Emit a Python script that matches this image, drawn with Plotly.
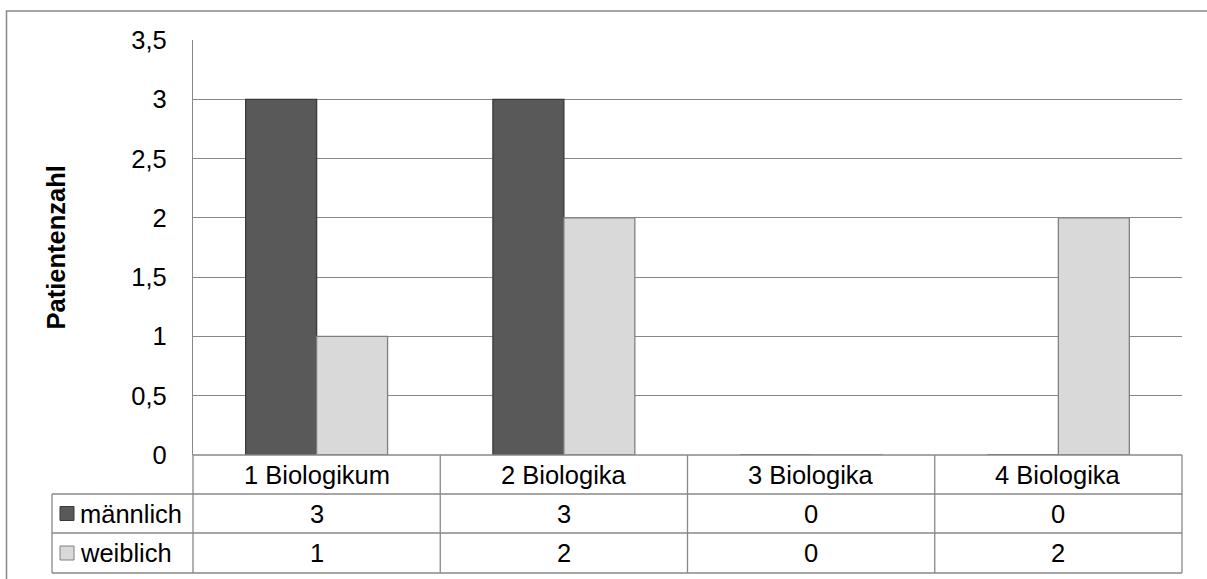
import plotly.graph_objects as go

# Data
categories = ["1 Biologikum", "2 Biologika", "3 Biologika", "4 Biologika"]
series_names = ["männlich", "weiblich"]
maennlich = [3, 3, 0, 0]
weiblich = [1, 2, 0, 2]
y_ticks = [0, 0.5, 1, 1.5, 2, 2.5, 3, 3.5]

# Styling
W, H = 1207, 579
PL, PR, PT, PB = 193, 1182, 40, 455          # plot area in pixels
LINE = "#888888"
FILL = {"männlich": "#595959", "weiblich": "#d9d9d9"}
EDGE = {"männlich": "#3a3a3a", "weiblich": "#808080"}
FONT = "Liberation Sans, Arial, sans-serif"
FS = 25.5

pw, ph = PR - PL, PB - PT


def px(x):  # pixel -> paper x
    return (x - PL) / pw


def py(y):  # pixel -> paper y
    return (PB - y) / ph


fig = go.Figure()
values = {"männlich": maennlich, "weiblich": weiblich}
for name in series_names:
    fig.add_trace(go.Bar(
        x=list(range(len(categories))), y=values[name], name=name,
        marker=dict(color=FILL[name], line=dict(color=EDGE[name], width=1.3)),
        showlegend=False,
    ))

shapes = []
annotations = []

# outer chart frame (runs past the page edge on right and bottom)
shapes.append(dict(type="rect", xref="paper", yref="paper",
                   x0=px(6.5), x1=px(1215), y0=py(11), y1=py(600),
                   line=dict(color=LINE, width=1.5), fillcolor="rgba(0,0,0,0)", layer="below"))

# data table geometry
row_lines = [455, 494, 533, 573]
left_col = 52
n = len(categories)

# horizontal table lines
shapes.append(dict(type="line", xref="paper", yref="paper", x0=0, x1=1,
                   y0=py(row_lines[0]), y1=py(row_lines[0]), line=dict(color=LINE, width=1.3)))
for r in row_lines[1:]:
    shapes.append(dict(type="line", xref="paper", yref="paper", x0=px(left_col), x1=1,
                       y0=py(r), y1=py(r), line=dict(color=LINE, width=1.3)))
# vertical table lines
shapes.append(dict(type="line", xref="paper", yref="paper", x0=0, x1=0,
                   y0=py(row_lines[0]), y1=py(row_lines[-1]), line=dict(color=LINE, width=1.3)))
shapes.append(dict(type="line", xref="paper", yref="paper", x0=1, x1=1,
                   y0=py(row_lines[0]), y1=py(row_lines[-1]), line=dict(color=LINE, width=1.3)))
shapes.append(dict(type="line", xref="paper", yref="paper", x0=px(left_col), x1=px(left_col),
                   y0=py(row_lines[1]), y1=py(row_lines[-1]), line=dict(color=LINE, width=1.3)))
for i in range(n - 1):
    shapes.append(dict(type="line", xref="x", yref="paper", x0=i + 0.5, x1=i + 0.5,
                       y0=py(row_lines[0]), y1=py(row_lines[-1]), line=dict(color=LINE, width=1.3)))

# category header row
for i, c in enumerate(categories):
    annotations.append(dict(x=i, y=py((row_lines[0] + row_lines[1]) / 2), xref="x", yref="paper",
                            text=c, showarrow=False, xanchor="center", yanchor="middle",
                            font=dict(family=FONT, size=FS, color="#000000")))

# series rows: legend key, name and values
for k, name in enumerate(series_names):
    top, bot = row_lines[k + 1], row_lines[k + 2]
    mid = (top + bot) / 2
    shapes.append(dict(type="rect", xref="paper", yref="paper",
                       x0=px(60), x1=px(74), y0=py(mid - 7), y1=py(mid + 7),
                       fillcolor=FILL[name], line=dict(color=EDGE[name], width=1)))
    annotations.append(dict(x=px(78), y=py(mid), xref="paper", yref="paper", text=name,
                            showarrow=False, xanchor="left", yanchor="middle",
                            font=dict(family=FONT, size=FS, color="#000000")))
    for i, v in enumerate(values[name]):
        annotations.append(dict(x=i, y=py(mid), xref="x", yref="paper", text=str(v),
                                showarrow=False, xanchor="center", yanchor="middle",
                                font=dict(family=FONT, size=FS, color="#000000")))

# y axis title
annotations.append(dict(x=px(55), y=0.5, xref="paper", yref="paper", text="<b>Patientenzahl</b>",
                        textangle=-90, showarrow=False, xanchor="center", yanchor="middle",
                        font=dict(family=FONT, size=FS, color="#000000")))

fig.update_layout(
    width=W, height=H,
    margin=dict(l=PL, r=W - PR, t=PT, b=H - PB, pad=0),
    paper_bgcolor="white", plot_bgcolor="white",
    separators=",.",
    barmode="group", bargap=0.426, bargroupgap=0,
    shapes=shapes, annotations=annotations,
    xaxis=dict(range=[-0.5, n - 0.5], showticklabels=False, showgrid=False, zeroline=False,
               showline=False, ticks=""),
    yaxis=dict(range=[0, 3.5], tickvals=y_ticks, showgrid=True, gridcolor=LINE, gridwidth=1.3,
               zeroline=False, showline=True, linecolor=LINE, linewidth=1.3, ticks="",
               ticklabelstandoff=20,
               tickfont=dict(family=FONT, size=FS, color="#000000")),
    font=dict(family=FONT, size=FS, color="#000000"),
)

fig.write_html("out.html")
